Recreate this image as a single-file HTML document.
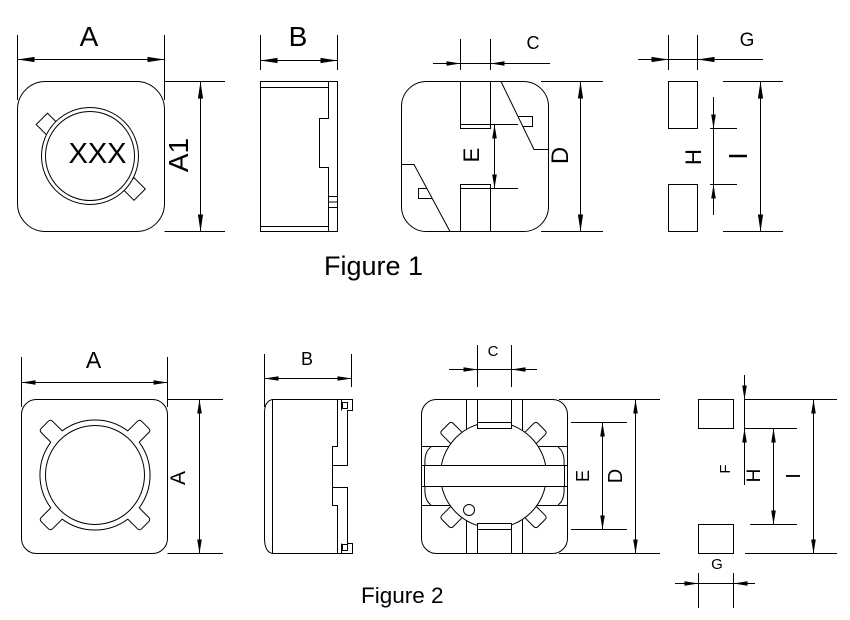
<!DOCTYPE html>
<html>
<head>
<meta charset="utf-8">
<style>
html,body{margin:0;padding:0;background:#fff;}
svg{display:block;}
text{font-family:"Liberation Sans",Arial,sans-serif;fill:#000;}
</style>
</head>
<body>
<svg width="850" height="620" viewBox="0 0 850 620" xmlns="http://www.w3.org/2000/svg">
<defs>
<marker id="m1" viewBox="0 -3 17 6" refX="17" refY="0" markerWidth="17" markerHeight="6" markerUnits="userSpaceOnUse" orient="auto-start-reverse"><path d="M0,-2.6L17,0L0,2.6Z" fill="#000"/></marker>
<marker id="m2" viewBox="0 -3 14 6" refX="14" refY="0" markerWidth="14" markerHeight="6" markerUnits="userSpaceOnUse" orient="auto-start-reverse"><path d="M0,-2.3L14,0L0,2.3Z" fill="#000"/></marker>
</defs>
<rect width="850" height="620" fill="#fff"/>
<g fill="none" stroke="#000" stroke-width="1">

<!-- ===== FIGURE 1 : top view ===== -->
<rect x="17.5" y="81.5" width="147" height="150" rx="28" fill="#fff"/>
<rect x="-8" y="-8" width="16" height="16" transform="translate(47.5,124.5) rotate(45)" fill="#fff"/>
<rect x="-8" y="-8" width="16" height="16" transform="translate(134,189) rotate(45)" fill="#fff"/>
<circle cx="90" cy="156" r="48.5" fill="#fff"/>
<circle cx="90" cy="156" r="44.5"/>
<!-- A dim -->
<line x1="17.5" y1="35" x2="17.5" y2="100"/>
<line x1="164.5" y1="35" x2="164.5" y2="100"/>
<line x1="17.5" y1="59.5" x2="164.5" y2="59.5" marker-start="url(#m1)" marker-end="url(#m1)"/>
<!-- A1 dim -->
<line x1="164.5" y1="81.5" x2="225" y2="81.5"/>
<line x1="164.5" y1="231.5" x2="225" y2="231.5"/>
<line x1="200.5" y1="81.5" x2="200.5" y2="231.5" marker-start="url(#m1)" marker-end="url(#m1)"/>

<!-- ===== FIGURE 1 : side view ===== -->
<rect x="260.5" y="81.5" width="77" height="150"/>
<line x1="260.5" y1="87.5" x2="328.5" y2="87.5"/>
<line x1="260.5" y1="226.5" x2="328.5" y2="226.5"/>
<path d="M328.5,81.5 V118.5 H319.5 V167.5 H328.5 V231.5"/>
<rect x="328.5" y="196.5" width="9" height="11"/>
<line x1="328.5" y1="202" x2="337.5" y2="202"/>
<line x1="260.5" y1="35" x2="260.5" y2="70"/>
<line x1="337.5" y1="35" x2="337.5" y2="70"/>
<line x1="260.5" y1="60.5" x2="337.5" y2="60.5" marker-start="url(#m1)" marker-end="url(#m1)"/>

<!-- ===== FIGURE 1 : bottom view ===== -->
<rect x="401.5" y="81.5" width="147" height="150" rx="25" fill="#fff"/>
<path d="M460.5,81.5 V128.5 H490.5 V81.5"/>
<line x1="460.5" y1="124.5" x2="490.5" y2="124.5"/>
<path d="M460.5,231.5 V184.5 H490.5 V231.5"/>
<line x1="460.5" y1="188.5" x2="490.5" y2="188.5"/>
<path d="M501,81.5 L534,149.5 H548.5"/>
<path d="M518,116.5 H532.5 V126.5 H522.8"/>
<path d="M401.5,164.5 H414 L450,231.5"/>
<path d="M426.9,188.5 H418.5 V198.5 H432.3"/>
<!-- E dim -->
<line x1="490.5" y1="124.5" x2="518" y2="124.5"/>
<line x1="490.5" y1="188.5" x2="518" y2="188.5"/>
<line x1="494.5" y1="124.5" x2="494.5" y2="188.5" marker-start="url(#m2)" marker-end="url(#m2)"/>
<!-- C dim -->
<line x1="460.5" y1="39" x2="460.5" y2="70"/>
<line x1="490.5" y1="39" x2="490.5" y2="70"/>
<line x1="433" y1="63.5" x2="550" y2="63.5"/>
<line x1="433" y1="63.5" x2="460.5" y2="63.5" marker-end="url(#m2)"/>
<line x1="550" y1="63.5" x2="490.5" y2="63.5" marker-end="url(#m2)"/>
<!-- D dim -->
<line x1="541" y1="81.5" x2="603" y2="81.5"/>
<line x1="541" y1="231.5" x2="603" y2="231.5"/>
<line x1="580.5" y1="81.5" x2="580.5" y2="231.5" marker-start="url(#m1)" marker-end="url(#m1)"/>

<!-- ===== FIGURE 1 : pads ===== -->
<rect x="668.5" y="81.5" width="29" height="47"/>
<rect x="668.5" y="184.5" width="29" height="47"/>
<line x1="668.5" y1="35" x2="668.5" y2="70"/>
<line x1="697.5" y1="35" x2="697.5" y2="70"/>
<line x1="638" y1="59.5" x2="763" y2="59.5"/>
<line x1="638" y1="59.5" x2="668.5" y2="59.5" marker-end="url(#m1)"/>
<line x1="763" y1="59.5" x2="697.5" y2="59.5" marker-end="url(#m1)"/>
<line x1="710" y1="128.5" x2="737" y2="128.5"/>
<line x1="710" y1="184.5" x2="737" y2="184.5"/>
<line x1="713.5" y1="97" x2="713.5" y2="215"/>
<line x1="713.5" y1="97" x2="713.5" y2="128.5" marker-end="url(#m2)"/>
<line x1="713.5" y1="215" x2="713.5" y2="184.5" marker-end="url(#m2)"/>
<line x1="723" y1="81.5" x2="783" y2="81.5"/>
<line x1="723" y1="231.5" x2="783" y2="231.5"/>
<line x1="760.5" y1="81.5" x2="760.5" y2="231.5" marker-start="url(#m1)" marker-end="url(#m1)"/>

<!-- ===== FIGURE 2 : top view ===== -->
<rect x="21.5" y="399.5" width="146" height="154" rx="15" fill="#fff"/>
<path transform="translate(95,475)" fill="#fff" d="M-32.8,-44.2 A55,55 0 0 1 32.8,-44.2 L42.4,-53.7 Q44.5,-55.9 46.7,-53.7 L53.7,-46.7 Q55.9,-44.5 53.7,-42.4 L44.2,-32.8 A55,55 0 0 1 44.2,32.8 L53.7,42.4 Q55.9,44.5 53.7,46.7 L46.7,53.7 Q44.5,55.9 42.4,53.7 L32.8,44.2 A55,55 0 0 1 -32.8,44.2 L-42.4,53.7 Q-44.5,55.9 -46.7,53.7 L-53.7,46.7 Q-55.9,44.5 -53.7,42.4 L-44.2,32.8 A55,55 0 0 1 -44.2,-32.8 L-53.7,-42.4 Q-55.9,-44.5 -53.7,-46.7 L-46.7,-53.7 Q-44.5,-55.9 -42.4,-53.7 Z"/>
<circle cx="95" cy="475" r="49.5"/>
<line x1="21.5" y1="357" x2="21.5" y2="407"/>
<line x1="167.5" y1="357" x2="167.5" y2="407"/>
<line x1="21.5" y1="382.5" x2="167.5" y2="382.5" marker-start="url(#m2)" marker-end="url(#m2)"/>
<line x1="167.5" y1="399.5" x2="223" y2="399.5"/>
<line x1="167.5" y1="553.5" x2="223" y2="553.5"/>
<line x1="199.5" y1="399.5" x2="199.5" y2="553.5" marker-start="url(#m2)" marker-end="url(#m2)"/>

<!-- ===== FIGURE 2 : side view ===== -->
<path d="M272.5,399.5 Q264.5,401 264.5,413 V538 Q264.5,552 272.5,553.5"/>
<line x1="272.5" y1="399.5" x2="272.5" y2="553.5"/>
<path d="M272.5,399.5 H352.5 V410.5 H347.5 V465.5 H332.5 V487.5 H347.5 V543.5 H352.5 V553.5 H272.5"/>
<path d="M337.5,399.5 V446.5 H332.5 V505.5 H337.5 V553.5"/>
<line x1="341.5" y1="399.5" x2="341.5" y2="410.5"/>
<line x1="341.5" y1="543.5" x2="341.5" y2="553.5"/>
<rect x="342.5" y="402.5" width="5" height="6"/>
<rect x="342.5" y="544.5" width="5" height="6"/>
<line x1="264.5" y1="354" x2="264.5" y2="407"/>
<line x1="351.5" y1="354" x2="351.5" y2="387"/>
<line x1="264.5" y1="378.5" x2="351.5" y2="378.5" marker-start="url(#m2)" marker-end="url(#m2)"/>

<!-- ===== FIGURE 2 : bottom view ===== -->
<rect x="421.5" y="399.5" width="146" height="154" rx="15" fill="#fff"/>
<line x1="466.5" y1="399.5" x2="466.5" y2="429.4"/>
<line x1="466.5" y1="520.6" x2="466.5" y2="553.5"/>
<line x1="522.5" y1="399.5" x2="522.5" y2="430.6"/>
<line x1="522.5" y1="519.4" x2="522.5" y2="553.5"/>
<line x1="421.5" y1="446.5" x2="448.8" y2="446.5"/>
<line x1="538.2" y1="446.5" x2="567.5" y2="446.5"/>
<line x1="421.5" y1="505.5" x2="450.2" y2="505.5"/>
<line x1="536.8" y1="505.5" x2="567.5" y2="505.5"/>
<circle cx="493.5" cy="475" r="53"/>
<g transform="translate(493.5,475)">
<path d="M-42.7,-31.4 L-51.6,-40.3 Q-53.7,-42.4 -51.6,-44.5 L-44.5,-51.6 Q-42.4,-53.7 -40.3,-51.6 L-31.4,-42.7"/>
<path d="M42.7,-31.4 L51.6,-40.3 Q53.7,-42.4 51.6,-44.5 L44.5,-51.6 Q42.4,-53.7 40.3,-51.6 L31.4,-42.7"/>
<path d="M42.7,31.4 L51.6,40.3 Q53.7,42.4 51.6,44.5 L44.5,51.6 Q42.4,53.7 40.3,51.6 L31.4,42.7"/>
<path d="M-42.7,31.4 L-51.6,40.3 Q-53.7,42.4 -51.6,44.5 L-44.5,51.6 Q-42.4,53.7 -40.3,51.6 L-31.4,42.7"/>
</g>
<rect x="477.5" y="399.5" width="34" height="29" fill="#fff"/>
<line x1="477.5" y1="422.5" x2="511.5" y2="422.5"/>
<rect x="477.5" y="523.5" width="34" height="30" fill="#fff"/>
<line x1="477.5" y1="529.5" x2="511.5" y2="529.5"/>
<rect x="421.5" y="465.5" width="146" height="21" fill="#fff"/>
<line x1="424.5" y1="465.5" x2="424.5" y2="486.5"/>
<line x1="564.5" y1="465.5" x2="564.5" y2="486.5"/>
<path d="M431,447 Q424,452 425,465"/>
<path d="M425,486.5 Q424,500 431,505"/>
<path d="M558,447 Q565,452 564,465"/>
<path d="M564,486.5 Q565,500 558,505"/>
<circle cx="469" cy="510" r="5.5"/>
<!-- C dim -->
<line x1="477.5" y1="345" x2="477.5" y2="387"/>
<line x1="511.5" y1="345" x2="511.5" y2="387"/>
<line x1="449" y1="369.5" x2="537" y2="369.5"/>
<line x1="449" y1="369.5" x2="477.5" y2="369.5" marker-end="url(#m2)"/>
<line x1="537" y1="369.5" x2="511.5" y2="369.5" marker-end="url(#m2)"/>
<!-- E dim -->
<line x1="571" y1="422.5" x2="627" y2="422.5"/>
<line x1="571" y1="529.5" x2="627" y2="529.5"/>
<line x1="602.5" y1="422.5" x2="602.5" y2="529.5" marker-start="url(#m2)" marker-end="url(#m2)"/>
<!-- D dim -->
<line x1="559" y1="399.5" x2="660" y2="399.5"/>
<line x1="559" y1="553.5" x2="660" y2="553.5"/>
<line x1="635.5" y1="399.5" x2="635.5" y2="553.5" marker-start="url(#m2)" marker-end="url(#m2)"/>

<!-- ===== FIGURE 2 : pads ===== -->
<rect x="698.5" y="399.5" width="35" height="29"/>
<rect x="698.5" y="524.5" width="35" height="29"/>
<line x1="744.5" y1="375" x2="744.5" y2="485"/>
<line x1="744.5" y1="375" x2="744.5" y2="399.5" marker-end="url(#m2)"/>
<line x1="744.5" y1="446" x2="744.5" y2="428.5" marker-end="url(#m2)"/>
<line x1="744.5" y1="399.5" x2="837" y2="399.5"/>
<line x1="744.5" y1="428.5" x2="797" y2="428.5"/>
<line x1="750" y1="524.5" x2="797" y2="524.5"/>
<line x1="745" y1="553.5" x2="837" y2="553.5"/>
<line x1="773.5" y1="428.5" x2="773.5" y2="524.5" marker-start="url(#m2)" marker-end="url(#m2)"/>
<line x1="813.5" y1="399.5" x2="813.5" y2="553.5" marker-start="url(#m2)" marker-end="url(#m2)"/>
<line x1="698.5" y1="573" x2="698.5" y2="608"/>
<line x1="733.5" y1="573" x2="733.5" y2="608"/>
<line x1="675" y1="583.5" x2="755" y2="583.5"/>
<line x1="675" y1="583.5" x2="698.5" y2="583.5" marker-end="url(#m2)"/>
<line x1="755" y1="583.5" x2="733.5" y2="583.5" marker-end="url(#m2)"/>
</g>

<!-- ===== TEXT ===== -->
<text x="89" y="46" font-size="28" text-anchor="middle">A</text>
<text x="298" y="46" font-size="28" text-anchor="middle">B</text>
<text x="533" y="49" font-size="18" text-anchor="middle">C</text>
<text x="747" y="46" font-size="19" text-anchor="middle">G</text>
<text x="97.5" y="163" font-size="29" text-anchor="middle">XXX</text>
<text transform="translate(188,155) rotate(-90)" font-size="28" text-anchor="middle">A1</text>
<text transform="translate(479,155) rotate(-90)" font-size="22" text-anchor="middle">E</text>
<text transform="translate(568,155.5) rotate(-90)" font-size="24" text-anchor="middle">D</text>
<text transform="translate(701,157) rotate(-90)" font-size="22" text-anchor="middle">H</text>
<text transform="translate(747,156) rotate(-90)" font-size="26" text-anchor="middle">I</text>
<text x="324" y="275" font-size="27">Figure 1</text>

<text x="93.5" y="368" font-size="23" text-anchor="middle">A</text>
<text x="307" y="365" font-size="18" text-anchor="middle">B</text>
<text transform="translate(185,478) rotate(-90)" font-size="21" text-anchor="middle">A</text>
<text x="493" y="356" font-size="15" text-anchor="middle">C</text>
<text transform="translate(589,476) rotate(-90)" font-size="18" text-anchor="middle">E</text>
<text transform="translate(622,476) rotate(-90)" font-size="20" text-anchor="middle">D</text>
<text transform="translate(730,469) rotate(-90)" font-size="15" text-anchor="middle">F</text>
<text transform="translate(760,475.5) rotate(-90)" font-size="19" text-anchor="middle">H</text>
<text transform="translate(800,476) rotate(-90)" font-size="20" text-anchor="middle">I</text>
<text x="717" y="569" font-size="15" text-anchor="middle">G</text>
<text x="361" y="603" font-size="22.5">Figure 2</text>
</svg>
</body>
</html>
